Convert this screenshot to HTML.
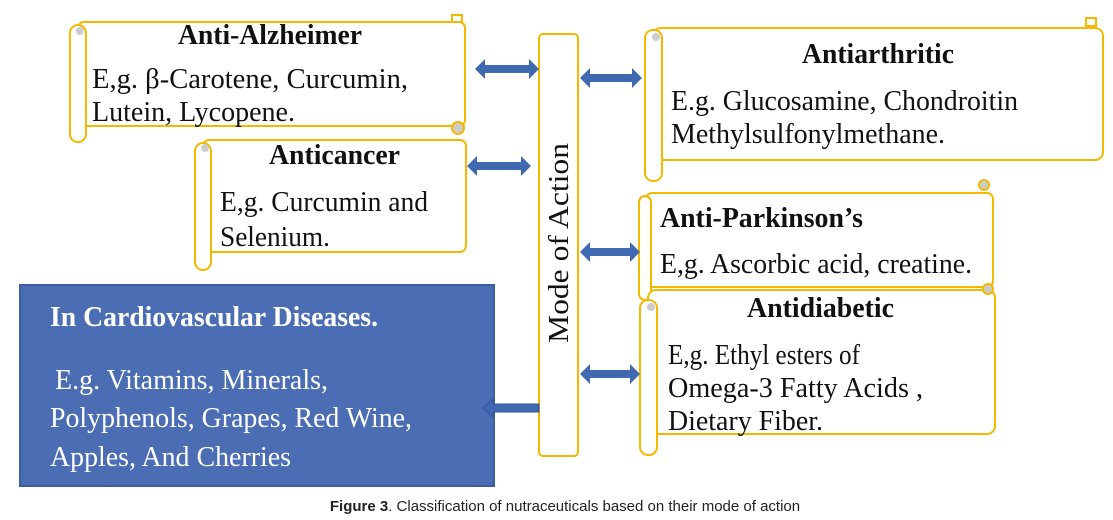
<!DOCTYPE html>
<html><head><meta charset="utf-8"><style>
html,body{margin:0;padding:0;background:#fff;}
svg{display:block;}
.t{font-family:"Liberation Serif",serif;font-size:29px;fill:#111;}
.b{font-weight:bold;}
.w{fill:#fff;}
</style></head><body>
<svg width="1113" height="520" viewBox="0 0 1113 520" xmlns="http://www.w3.org/2000/svg">
<g fill="#fff" stroke="#f5b800" stroke-width="2">
<rect x="78" y="22" width="387" height="104" rx="6"/>
<rect x="70" y="25" width="16" height="117" rx="8"/>
<circle cx="80" cy="31" r="4" fill="#ccc" stroke="none"/>
<rect x="452" y="15" width="10" height="7"/>
<rect x="203" y="140" width="263" height="112" rx="6"/>
<rect x="195" y="143" width="16" height="127" rx="8"/>
<circle cx="205" cy="148" r="4" fill="#ccc" stroke="none"/>
<circle cx="458" cy="128" r="6" fill="#ccc"/>
<rect x="539" y="34" width="39" height="422" rx="4"/>
<rect x="653" y="28" width="450" height="132" rx="8"/>
<rect x="645" y="30" width="17" height="151" rx="8"/>
<circle cx="656" cy="37" r="4" fill="#ccc" stroke="none"/>
<rect x="1086" y="18" width="10" height="8"/>
<rect x="646" y="193" width="347" height="94" rx="6"/>
<rect x="639" y="196" width="12" height="104" rx="6"/>
<circle cx="984" cy="185" r="5" fill="#ccc"/>
<rect x="648" y="290" width="347" height="144" rx="8"/>
<rect x="640" y="300" width="17" height="155" rx="8"/>
<circle cx="651" cy="307" r="4" fill="#ccc" stroke="none"/>
<circle cx="988" cy="289" r="5" fill="#ccc"/>
</g>
<rect x="20" y="285" width="474" height="201" fill="#4a6db4" stroke="#3b5ea0" stroke-width="2"/>
<g fill="#3f69b0">
<polygon points="475,69 485,59 485,65 529,65 529,59 539,69 529,79 529,73 485,73 485,79"/>
<polygon points="467,166 477,156 477,162 521,162 521,156 531,166 521,176 521,170 477,170 477,176"/>
<polygon points="580,78 590,68 590,74 632,74 632,68 642,78 632,88 632,82 590,82 590,88"/>
<polygon points="580,252 590,242 590,248 630,248 630,242 640,252 630,262 630,256 590,256 590,262"/>
<polygon points="580,374 590,364 590,370 630,370 630,364 640,374 630,384 630,378 590,378 590,384"/>
<polygon points="483,408 493,399 493,404 539,404 539,412 493,412 493,417" stroke="#33589a" stroke-width="1"/>
</g>
<g lengthAdjust="spacingAndGlyphs">
<text class="t b" x="178" y="44" textLength="184" lengthAdjust="spacingAndGlyphs">Anti-Alzheimer</text>
<text class="t" x="92" y="88" textLength="316" lengthAdjust="spacingAndGlyphs">E,g.  β-Carotene, Curcumin,</text>
<text class="t" x="92" y="121" textLength="203" lengthAdjust="spacingAndGlyphs">Lutein, Lycopene.</text>
<text class="t b" x="269" y="164" textLength="131" lengthAdjust="spacingAndGlyphs">Anticancer</text>
<text class="t" x="220" y="211" textLength="208" lengthAdjust="spacingAndGlyphs">E,g. Curcumin and</text>
<text class="t" x="220" y="246" textLength="110" lengthAdjust="spacingAndGlyphs">Selenium.</text>
<text class="t" x="568" y="243" text-anchor="middle" transform="rotate(-90 568 243)" textLength="200" lengthAdjust="spacingAndGlyphs">Mode of Action</text>
<text class="t b" x="802" y="63" textLength="152" lengthAdjust="spacingAndGlyphs">Antiarthritic</text>
<text class="t" x="671" y="110" textLength="347" lengthAdjust="spacingAndGlyphs">E.g. Glucosamine, Chondroitin</text>
<text class="t" x="671" y="143" textLength="274" lengthAdjust="spacingAndGlyphs">Methylsulfonylmethane.</text>
<text class="t b" x="660" y="227" textLength="203" lengthAdjust="spacingAndGlyphs">Anti-Parkinson’s</text>
<text class="t" x="660" y="273" textLength="312" lengthAdjust="spacingAndGlyphs">E,g. Ascorbic acid, creatine.</text>
<text class="t b" x="747" y="317" textLength="147" lengthAdjust="spacingAndGlyphs">Antidiabetic</text>
<text class="t" x="668" y="364" textLength="192" lengthAdjust="spacingAndGlyphs">E,g. Ethyl esters of</text>
<text class="t" x="668" y="397" textLength="255" lengthAdjust="spacingAndGlyphs">Omega-3 Fatty Acids ,</text>
<text class="t" x="668" y="430" textLength="155" lengthAdjust="spacingAndGlyphs">Dietary Fiber.</text>
<text class="t b w" x="50" y="326" textLength="328" lengthAdjust="spacingAndGlyphs">In Cardiovascular Diseases.</text>
<text class="t w" x="55" y="389" textLength="273" lengthAdjust="spacingAndGlyphs">E.g. Vitamins, Minerals,</text>
<text class="t w" x="50" y="427" textLength="362" lengthAdjust="spacingAndGlyphs">Polyphenols, Grapes, Red Wine,</text>
<text class="t w" x="50" y="466" textLength="241" lengthAdjust="spacingAndGlyphs">Apples, And Cherries</text>
</g>
<text x="565" y="511" text-anchor="middle" font-family="Liberation Sans, sans-serif" font-size="15" fill="#222"><tspan font-weight="bold">Figure 3</tspan>. Classification of nutraceuticals based on their mode of action</text>
</svg>
</body></html>
